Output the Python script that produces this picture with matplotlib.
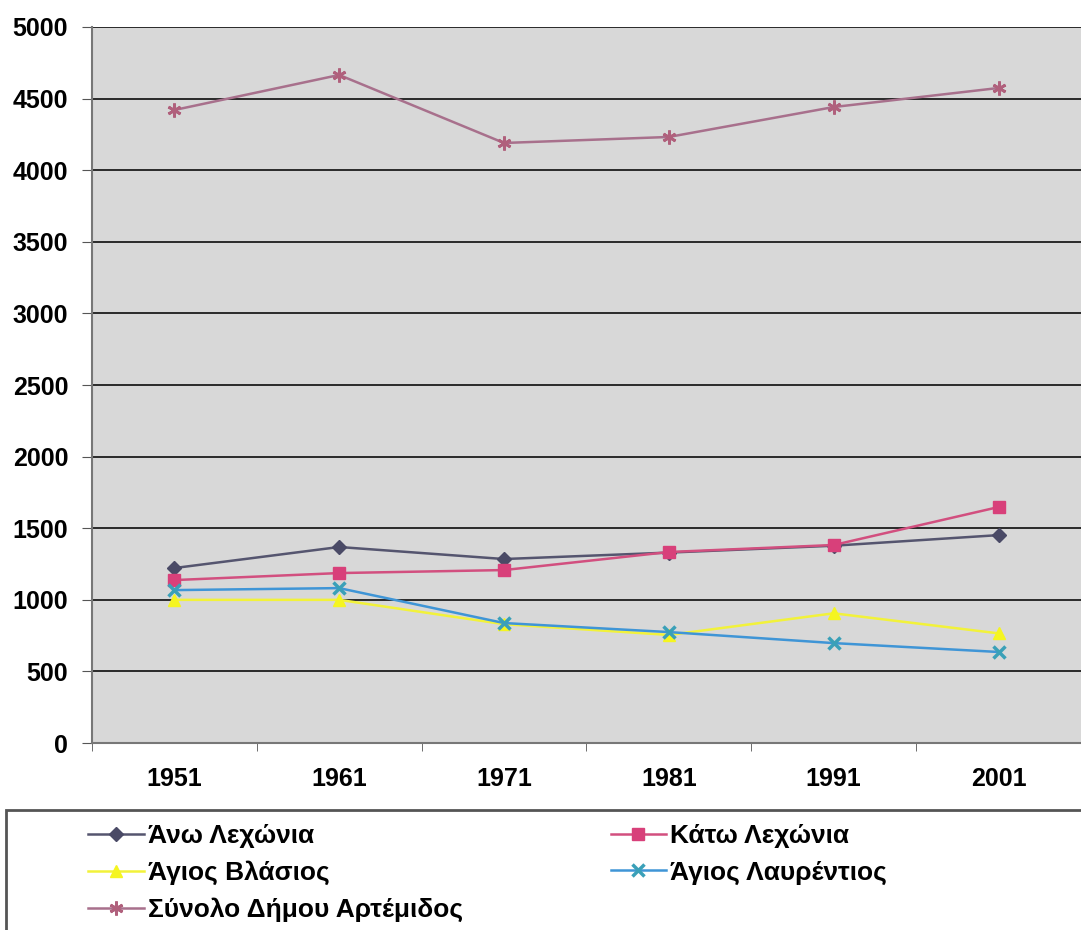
import matplotlib
matplotlib.use("Agg")
import matplotlib.pyplot as plt
from matplotlib.patches import Rectangle

years = ["1951", "1961", "1971", "1981", "1991", "2001"]
ano_lechonia = [1222, 1369, 1285, 1330, 1378, 1452]
kato_lechonia = [1138, 1187, 1208, 1334, 1383, 1648]
agios_vlasios = [1000, 1000, 830, 755, 906, 766]
agios_lavrentios = [1068, 1082, 838, 775, 698, 636]
synolo = [4420, 4665, 4190, 4232, 4441, 4574]

labels = ["Άνω Λεχώνια", "Κάτω Λεχώνια", "Άγιος Βλάσιος",
          "Άγιος Λαυρέντιος", "Σύνολο Δήμου Αρτέμιδος"]

plt.rcParams['font.family'] = ['Liberation Sans', 'DejaVu Sans']

fig = plt.figure(figsize=(10.81, 9.30), dpi=100)
ax = fig.add_axes([0.085, 0.201, 0.915, 0.770])
ax.set_facecolor('#d8d8d8')

x = list(range(1, len(years) + 1))

styles = [
    dict(color='#55556f', marker='D', ms=7, mfc='#4a4a66', mec='#4a4a66'),
    dict(color='#d24f7f', marker='s', ms=8.5, mfc='#d8407a', mec='#d8407a'),
    dict(color='#f2f23a', marker='^', ms=8.5, mfc='#f5f520', mec='#f5f520'),
    dict(color='#3f95d6', marker='x', ms=9, mew=2.5, mfc='#3aa0b8', mec='#3aa0b8'),
    dict(color='#a8708c', marker=(6, 2, 0), ms=10, mew=2, mec='#b0607c'),
]
series = [ano_lechonia, kato_lechonia, agios_vlasios, agios_lavrentios, synolo]
lines = []
for s, st, lab in zip(series, styles, labels):
    ln, = ax.plot(x, s, lw=1.8, label=lab, zorder=3, **st)
    lines.append(ln)

ax.set_xlim(0.5, len(years) + 0.5)
ax.set_ylim(0, 5000)
ax.set_yticks(range(0, 5001, 500))
ax.yaxis.grid(True, color='#2a2a2a', lw=1.4)
ax.set_axisbelow(True)
ax.set_xticks(x)
ax.set_xticklabels(years)
ax.set_xticks([i + 0.5 for i in range(0, len(years) + 1)], minor=True)
ax.tick_params(axis='x', which='major', length=0, pad=17)
ax.tick_params(axis='x', which='minor', length=6, color='#555555')
ax.tick_params(axis='y', length=7, color='#555555', pad=10)
for lbl in ax.get_xticklabels() + ax.get_yticklabels():
    lbl.set_fontsize(18)
    lbl.set_fontweight('bold')

for sp in ['top', 'right']:
    ax.spines[sp].set_visible(False)
ax.spines['left'].set_color('#777777')
ax.spines['bottom'].set_color('#777777')
ax.spines['left'].set_linewidth(1.5)
ax.spines['bottom'].set_linewidth(1.5)

# legend frame
fig.patches.append(Rectangle((0.006, -0.01), 1.0, 0.139, transform=fig.transFigure,
                             facecolor='white', edgecolor='#555555', lw=2))

order = [0, 2, 4, 1, 3]
handles = [lines[i] for i in order]
labs = [labels[i] for i in order]
leg = fig.legend(handles, labs, loc='upper left', bbox_to_anchor=(0.072, 0.125),
                 ncol=2, frameon=False, handlelength=2.1, handletextpad=0.15,
                 columnspacing=5.6, labelspacing=0.47, borderaxespad=0, borderpad=0.4,
                 prop=dict(family='Liberation Sans', weight='bold', size=19))

fig.savefig('out.png', dpi=100, facecolor='white')
